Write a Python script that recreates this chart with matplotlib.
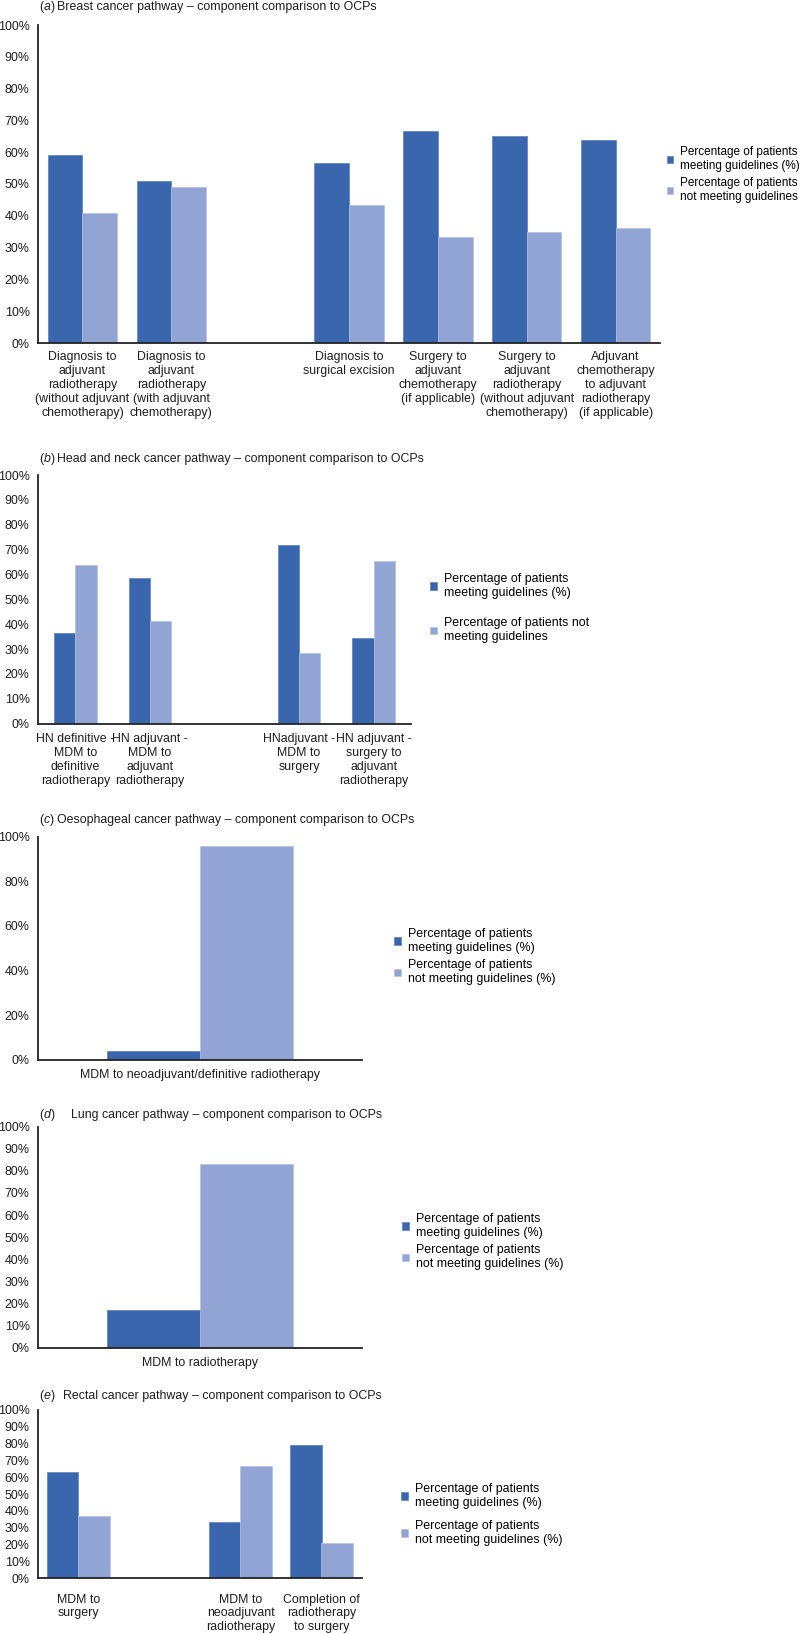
import matplotlib
matplotlib.use("Agg")
import matplotlib.pyplot as plt
import numpy as np

plt.rcParams['font.family'] = ['Liberation Sans', 'DejaVu Sans']
plt.rcParams['mathtext.fontset'] = 'custom'
plt.rcParams['mathtext.rm'] = 'Liberation Sans'
plt.rcParams['mathtext.it'] = 'Liberation Sans:italic'

DARK = '#3a66ae'
LIGHT = '#91a4d4'
TXT = '#1e1e1e'
FS = 8.9
nan = np.nan

# (a) breast
breast_labels = ["Diagnosis to\nadjuvant\nradiotherapy\n(without adjuvant\nchemotherapy)",
                 "Diagnosis to\nadjuvant\nradiotherapy\n(with adjuvant\nchemotherapy)",
                 "",
                 "Diagnosis to\nsurgical excision",
                 "Surgery to\nadjuvant\nchemotherapy\n(if applicable)",
                 "Surgery to\nadjuvant\nradiotherapy\n(without adjuvant\nchemotherapy)",
                 "Adjuvant\nchemotherapy\nto adjuvant\nradiotherapy\n(if applicable)"]
breast_meet = [59.0, 51.0, nan, 56.5, 66.7, 65.2, 63.7]
breast_not = [41.0, 49.0, nan, 43.5, 33.3, 34.8, 36.3]

# (b) head and neck
hn_labels = ["HN definitive -\nMDM to\ndefinitive\nradiotherapy",
             "HN adjuvant -\nMDM to\nadjuvant\nradiotherapy",
             "",
             "HNadjuvant -\nMDM to\nsurgery",
             "HN adjuvant -\nsurgery to\nadjuvant\nradiotherapy"]
hn_meet = [36.4, 58.6, nan, 71.8, 34.4]
hn_not = [63.6, 41.4, nan, 28.2, 65.6]

# (c) oesophageal
oes_labels = ["MDM to neoadjuvant/definitive radiotherapy"]
oes_meet = [4.0]
oes_not = [96.0]

# (d) lung
lung_labels = ["MDM to radiotherapy"]
lung_meet = [17.0]
lung_not = [83.0]

# (e) rectal
rect_labels = ["MDM to\nsurgery", "", "MDM to\nneoadjuvant\nradiotherapy",
               "Completion of\nradiotherapy\nto surgery"]
rect_meet = [63.2, nan, 33.3, 79.1]
rect_not = [36.8, nan, 66.7, 20.9]

W, H = 804, 1634
fig = plt.figure(figsize=(W / 100, H / 100), dpi=100)


def panel(box, labels, meet, notm, width, yticks, leg_labels, leg_pos, leg_space,
          title_letter, title_text, title_y, text_x, label_pad, leg_fs=FS):
    left, right, top, bottom = box
    ax = fig.add_axes([left / W, 1 - bottom / H, (right - left) / W, (bottom - top) / H])
    x = np.arange(len(labels))
    ax.bar(x - width / 2, meet, width, color=DARK, edgecolor='#5b80c0', linewidth=0.5,
           label=leg_labels[0])
    ax.bar(x + width / 2, notm, width, color=LIGHT, edgecolor='#b3c1e3', linewidth=0.5,
           label=leg_labels[1])
    ax.set_xlim(-0.5, len(labels) - 0.5)
    ax.set_ylim(0, 100)
    ax.set_yticks(yticks)
    ax.set_yticklabels([f"{t}%" for t in yticks])
    ax.set_xticks(x)
    ax.set_xticklabels(labels, linespacing=1.2)
    ax.tick_params(axis='both', length=0, labelsize=FS, colors=TXT)
    ax.tick_params(axis='y', pad=6)
    ax.tick_params(axis='x', pad=label_pad)
    for s in ['top', 'right']:
        ax.spines[s].set_visible(False)
    for s in ['left', 'bottom']:
        ax.spines[s].set_color('#222222')
        ax.spines[s].set_linewidth(1.3)
    ax.legend(loc='upper left', bbox_to_anchor=(leg_pos[0] / W, 1 - leg_pos[1] / H),
              bbox_transform=fig.transFigure, frameon=False, fontsize=leg_fs,
              handlelength=0.55, handleheight=0.55, handletextpad=0.55,
              borderpad=0, borderaxespad=0, labelspacing=leg_space)
    fig.text(39 / W, 1 - title_y / H, f"(${title_letter}$)", fontsize=FS, color=TXT,
             va='center', ha='left')
    fig.text(text_x / W, 1 - title_y / H, title_text, fontsize=FS, color=TXT,
             va='center', ha='left')
    return ax


t = "component comparison to OCPs"
panel((38, 660, 25, 343), breast_labels, breast_meet, breast_not, 0.39,
      range(0, 101, 10),
      ["Percentage of patients\nmeeting guidelines (%)",
       "Percentage of patients\nnot meeting guidelines"],
      (667, 146), 0.45, 'a', "Breast cancer pathway \u2013 " + t, 7, 57, 6, leg_fs=8.5)
panel((38, 411, 475, 723.6), hn_labels, hn_meet, hn_not, 0.285,
      range(0, 101, 10),
      ["Percentage of patients\nmeeting guidelines (%)",
       "Percentage of patients not\nmeeting guidelines"],
      (430, 573), 1.5, 'b', "Head and neck cancer pathway \u2013 " + t, 459, 57, 7)
panel((38, 362, 836.7, 1059.6), oes_labels, oes_meet, oes_not, 0.287,
      range(0, 101, 20),
      ["Percentage of patients\nmeeting guidelines (%)",
       "Percentage of patients\nnot meeting guidelines (%)"],
      (394, 928), 0.45, 'c', "Oesophageal cancer pathway \u2013 " + t, 820, 57, 7)
panel((38, 362, 1126.7, 1347.6), lung_labels, lung_meet, lung_not, 0.287,
      range(0, 101, 10),
      ["Percentage of patients\nmeeting guidelines (%)",
       "Percentage of patients\nnot meeting guidelines (%)"],
      (402, 1213), 0.45, 'd', "Lung cancer pathway \u2013 " + t, 1115, 70.7, 7)
panel((38, 362, 1410, 1578.3), rect_labels, rect_meet, rect_not, 0.395,
      range(0, 101, 10),
      ["Percentage of patients\nmeeting guidelines (%)",
       "Percentage of patients\nnot meeting guidelines (%)"],
      (401, 1483), 0.9, 'e', "Rectal cancer pathway \u2013 " + t, 1396, 63, 11)

fig.savefig("out.png", dpi=100, facecolor='white')
